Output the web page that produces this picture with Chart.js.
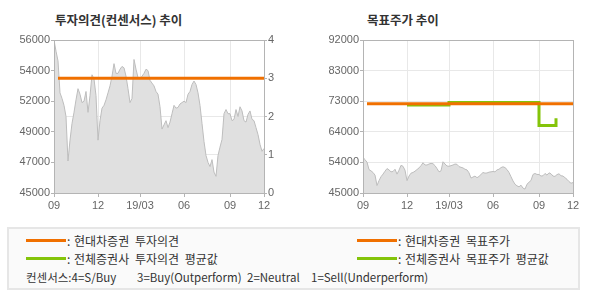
<!DOCTYPE html>
<html>
<head>
<meta charset="utf-8">
<script src="https://cdn.jsdelivr.net/npm/chart.js@4/dist/chart.umd.min.js"></script>
<style>
body { margin: 0; width: 590px; height: 300px; background: #fff; position: relative; overflow: hidden; font-family: 'Noto Sans CJK KR', sans-serif; }
canvas { position: absolute; top: 0; }
.title { position: absolute; top: 12px; font-size: 12.5px; font-weight: bold; line-height: 16px; color: #333; white-space: nowrap; }
#legendBox { position: absolute; left: 7px; top: 227px; width: 573px; height: 63px; box-sizing: border-box; border: 2px solid #e6e6e6; background: #fafafa; }
.ln { position: absolute; width: 40px; height: 3px; }
.lt { position: absolute; font-size: 12px; line-height: 14px; color: #333; white-space: pre; word-spacing: 3px; }
.ft { position: absolute; top: 270px; font-size: 11.5px; line-height: 14px; color: #333; white-space: pre; }
</style>
</head>
<body>
<div class="title" style="left:55px">투자의견(컨센서스) 추이</div>
<div class="title" style="left:367px">목표주가 추이</div>
<canvas id="opinionChart" width="295" height="215" style="left:0"></canvas>
<canvas id="targetChart" width="295" height="215" style="left:295px"></canvas>

<div id="legendBox"></div>
<div class="ln" style="left:26px;top:239px;background:#f07000"></div>
<div class="lt" style="left:67px;top:234px">:</div>
<div class="lt" style="left:74px;top:234px">현대차증권 투자의견</div>
<div class="ln" style="left:26px;top:257px;background:#84c40a"></div>
<div class="lt" style="left:67px;top:252px">:</div>
<div class="lt" style="left:74px;top:252px">전체증권사 투자의견 평균값</div>
<div class="ln" style="left:357px;top:239px;background:#f07000"></div>
<div class="lt" style="left:398px;top:234px">:</div>
<div class="lt" style="left:405px;top:234px">현대차증권 목표주가</div>
<div class="ln" style="left:357px;top:257px;background:#84c40a"></div>
<div class="lt" style="left:398px;top:252px">:</div>
<div class="lt" style="left:405px;top:252px">전체증권사 목표주가 평균값</div>
<div class="ft" style="left:26px">컨센서스:4=S/Buy</div>
<div class="ft" style="left:137px">3=Buy(Outperform)</div>
<div class="ft" style="left:247px">2=Neutral</div>
<div class="ft" style="left:311px">1=Sell(Underperform)</div>

<script>
// x 축: 거래일 인덱스, 눈금 위치와 라벨
const xTickPos = [0, 22, 43, 65, 88, 105];
const xTickLabels = ['09', '12', '19/03', '06', '09', '12'];

// 주가 (원)
const price = [
    56000, 55200, 54500, 52200, 51800, 51300, 50500, 47300, 48800, 50000,
    50800, 51700, 52500, 52100, 51500, 51600, 52300, 50800, 52000, 53500,
    53200, 52000, 48800, 50200, 51100, 51300, 51700, 52200, 52700, 53400,
    54300, 53600, 53600, 53900, 54100, 54000, 53400, 52500, 51500, 51800,
    54600, 53900, 53300, 53200, 53400, 53600, 53900, 53800, 53100, 52900,
    52700, 52300, 52100, 51200, 49600, 49900, 50200, 49700, 50100, 50700,
    51300, 51100, 51150, 51400, 51500, 51600, 51500, 52100, 52300, 52800,
    53050, 52800, 52200, 51300, 50000, 48700, 47700, 47200, 46900, 47400,
    46500, 46200, 47700, 48300, 48850, 50700, 51000, 50700, 50700, 50200,
    50300, 51000, 50500, 51200, 50900, 50200, 50100, 50650, 50900, 50300,
    50200, 49700, 49200, 48500, 48000, 48200
];

// 투자의견 차트 축
const leftTicks = [45000, 47200, 49400, 51600, 53800, 56000];
const leftTickLabels = ['45000', '47000', '49000', '52000', '54000', '56000'];
const opinionX = [2, 105];
const opinionHyundai = [3, 3];

// 목표주가 차트 축
const rightTicks = [45000, 54400, 63800, 73200, 82600, 92000];
const rightTickLabels = ['45000', '54000', '64000', '73000', '83000', '92000'];
const targetX = [2, 105];
const targetHyundai = [72400, 72400];
const targetAvgX = [22, 43, 88, 96.5];
const targetAvg = [72050, 72800, 65700, 68000];

const ORANGE = '#f07000';
const GREEN = '#84c40a';
const AXIS = '#b4b4b4';
const GRID = '#e8e8e8';
const tickFont = { family: 'Liberation Sans, Arial, sans-serif', size: 11 };

function pts(xs, ys) {
    return xs.map((x, i) => ({ x: x, y: ys[i] }));
}

// 플롯 영역 테두리
const frame = {
    id: 'frame',
    afterDraw(chart) {
        const a = chart.chartArea;
        const ctx = chart.ctx;
        ctx.save();
        ctx.strokeStyle = AXIS;
        ctx.lineWidth = 1;
        ctx.strokeRect(a.left + 0.5, a.top + 0.5, a.right - a.left, a.bottom - a.top);
        ctx.restore();
    }
};

function xScale() {
    return {
        type: 'linear',
        min: 0,
        max: 105,
        afterBuildTicks: s => { s.ticks = xTickPos.map(v => ({ value: v })); },
        afterFit: s => { s.height = 22; },
        ticks: {
            autoSkip: false, maxRotation: 0, padding: 2, color: '#666', font: tickFont,
            callback: (v, i) => xTickLabels[i]
        },
        grid: { color: GRID, tickColor: AXIS, tickLength: 4 },
        border: { color: AXIS }
    };
}

function priceSet(yAxisID) {
    return {
        data: pts(price.map((v, i) => i), price),
        yAxisID: yAxisID,
        borderColor: '#bdbdbd',
        borderWidth: 1,
        backgroundColor: '#e0e0e0',
        fill: 'start',
        pointRadius: 0,
        order: 3
    };
}

const commonOptions = {
    responsive: false,
    animation: false,
    devicePixelRatio: 1,
    plugins: { legend: { display: false }, tooltip: { enabled: false } }
};

new Chart(document.getElementById('opinionChart').getContext('2d'), {
    type: 'line',
    data: {
        datasets: [
            {
                data: pts(opinionX, opinionHyundai),
                yAxisID: 'y2',
                borderColor: ORANGE,
                borderWidth: 3,
                pointRadius: 0,
                order: 1
            },
            priceSet('y')
        ]
    },
    options: Object.assign({}, commonOptions, {
        layout: { padding: { top: 40, left: 0, right: 0, bottom: 0 } },
        scales: {
            x: xScale(),
            y: {
                position: 'left',
                min: 45000,
                max: 56000,
                afterBuildTicks: s => { s.ticks = leftTicks.map(v => ({ value: v })); },
                afterFit: s => { s.width = 54; },
                ticks: { padding: 1, color: '#666', font: tickFont, callback: (v, i) => leftTickLabels[i] },
                grid: { drawOnChartArea: false, color: AXIS, tickLength: 3 },
                border: { color: AXIS }
            },
            y2: {
                position: 'right',
                min: 0,
                max: 4,
                afterFit: s => { s.width = 31; },
                ticks: { stepSize: 1, padding: 1, color: '#666', font: tickFont },
                grid: { color: GRID, tickColor: AXIS, tickLength: 3 },
                border: { color: AXIS }
            }
        }
    }),
    plugins: [frame]
});

new Chart(document.getElementById('targetChart').getContext('2d'), {
    type: 'line',
    data: {
        datasets: [
            {
                data: pts(targetX, targetHyundai),
                borderColor: ORANGE,
                borderWidth: 3,
                pointRadius: 0,
                order: 1
            },
            {
                data: pts(targetAvgX, targetAvg),
                borderColor: GREEN,
                borderWidth: 3,
                pointRadius: 0,
                stepped: 'before',
                order: 2
            },
            priceSet('y')
        ]
    },
    options: Object.assign({}, commonOptions, {
        layout: { padding: { top: 40, left: 0, right: 17, bottom: 0 } },
        scales: {
            x: xScale(),
            y: {
                position: 'left',
                min: 45000,
                max: 92000,
                afterBuildTicks: s => { s.ticks = rightTicks.map(v => ({ value: v })); },
                afterFit: s => { s.width = 68; },
                ticks: { padding: 1, color: '#666', font: tickFont, callback: (v, i) => rightTickLabels[i] },
                grid: { color: GRID, tickColor: AXIS, tickLength: 3 },
                border: { color: AXIS }
            }
        }
    }),
    plugins: [frame]
});
</script>
</body>
</html>
